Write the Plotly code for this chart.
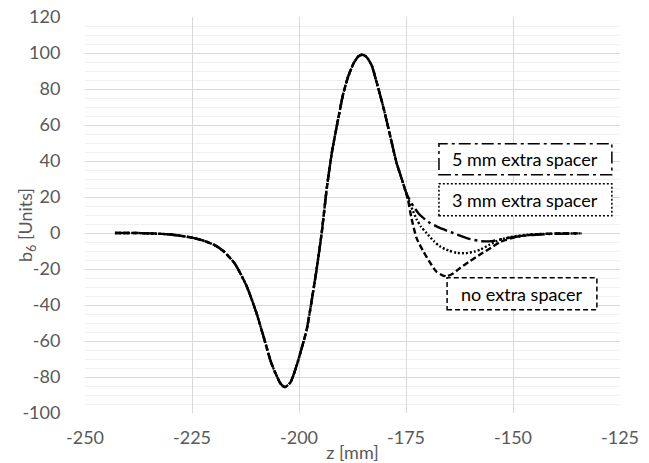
import plotly.graph_objects as go

# Shared part of the b6 profile (identical for all three spacer variants)
z_common = [-243, -238, -234, -230, -227.8, -225, -222, -219.5, -217.7, -215, -212.2, -210,
            -208.3, -206.5, -204.4, -203.3, -202, -200.6, -199.5, -198.2, -197, -196, -194.7,
            -193.5, -192.3, -191.2, -189.7, -188.5, -187.3, -186.2, -185.3, -184.3, -183,
            -181.9, -180.3, -178.7, -177.2, -176, -175.2]
b6_common = [0, 0, -0.3, -0.8, -1.5, -2.6, -4.5, -7, -10, -17, -29.7, -44,
             -57.4, -72, -83.3, -85.6, -83, -74, -65, -53.7, -37, -22, 0,
             25, 45, 59, 77, 87, 94, 98, 99, 98, 93,
             84, 70, 54, 39, 30, 24]

# Tails after the split
z_none = [-174.5, -173.7, -172.5, -171, -169.5, -167.9, -166.5, -165.5, -164, -162.4, -160,
          -157.7, -155, -153, -150.5, -148.4, -145, -140, -134]
b6_none = [18, 8, -3, -10, -16, -21.5, -23.5, -24, -22.5, -19.5, -15.5,
           -12, -8, -5, -3, -1.8, -0.8, -0.3, -0.2]

z_3mm = [-174.5, -173.5, -172.5, -171.5, -170.2, -168.5, -167.1, -165, -163.2, -161, -159,
         -157.7, -155.5, -153, -150, -147, -143, -138, -134]
b6_3mm = [19, 13, 7.5, 3.5, 0, -4.5, -7.4, -9.8, -11, -11.2, -10.3,
          -9.3, -6.5, -3.7, -2, -1, -0.5, -0.3, -0.2]

z_5mm = [-174.5, -173.3, -172.1, -170.5, -169.4, -167.1, -164, -160.8, -157.7, -155, -152.5,
         -150, -147, -143.7, -140, -134]
b6_5mm = [20, 15, 11, 7.5, 5.6, 2.8, 0, -2.8, -4.5, -4.5, -3.4,
          -2.3, -1.4, -0.8, -0.4, -0.2]

x_ticks = [-250, -225, -200, -175, -150, -125]
x_ticktext = ["-250", "-225", "-200", "-175", "-150", "-125"]
y_ticks = [-100, -80, -60, -40, -20, 0, 20, 40, 60, 80, 100, 120]
y_ticktext = ["-100", "-80", "-60", "-40", "-20", "0", "20", "40", "60", "80", "100", "120"]

series = [
    ("no extra spacer", z_none, b6_none, "6px,3px"),
    ("3 mm extra spacer", z_3mm, b6_3mm, "2px,2px"),
    ("5 mm extra spacer", z_5mm, b6_5mm, "14px,4px,3px,4px"),
]

FONT = "Lato, 'Open Sans', sans-serif"

fig = go.Figure()
for name, zt, bt, dash in series:
    fig.add_trace(go.Scatter(
        x=z_common + zt, y=b6_common + bt, mode="lines", name=name,
        line=dict(color="black", width=2.4, dash=dash, shape="spline", smoothing=0.6),
        showlegend=False,
    ))

# Labelled boxes with border styles matching each curve
boxes = [
    ("5 mm extra spacer", -167.3, -126.9, 32.4, 49.6, "12px,4px,3px,4px"),
    ("3 mm extra spacer", -167.3, -126.9, 9.6, 27.4, "2px,2px"),
    ("no extra spacer", -165.4, -130.4, -42.6, -24.8, "5px,3px"),
]
for text, x0, x1, y0, y1, dash in boxes:
    fig.add_shape(type="rect", x0=x0, x1=x1, y0=y0, y1=y1, xref="x", yref="y",
                  line=dict(color="black", width=1.5, dash=dash), fillcolor="white", layer="above")
    fig.add_annotation(x=(x0 + x1) / 2, y=(y0 + y1) / 2, text=text, showarrow=False,
                       font=dict(family=FONT, size=18, color="black"), xref="x", yref="y")

# Vertical axis title
fig.add_annotation(x=0, y=0.5, xref="paper", yref="paper", xanchor="center", yanchor="middle",
                   xshift=-59, yshift=-10, textangle=-90,
                   text="b<sub>6</sub> [Units]", showarrow=False,
                   font=dict(family=FONT, size=18, color="#595959"))

fig.update_layout(
    width=649, height=463,
    margin=dict(l=85, r=29, t=17, b=50),
    paper_bgcolor="white", plot_bgcolor="white",
    font=dict(family=FONT, size=18, color="#595959"),
)
fig.update_xaxes(
    range=[-250, -125], tickvals=x_ticks, ticktext=x_ticktext, automargin=False,
    showgrid=True, gridcolor="#d9d9d9", gridwidth=1, zeroline=False,
    showline=False, ticks="outside", ticklen=8, tickcolor="rgba(0,0,0,0)",
    title=dict(text="z [mm]", standoff=0, font=dict(size=18, color="#595959")),
)
fig.update_yaxes(
    range=[-100, 120], tickvals=y_ticks, ticktext=y_ticktext, automargin=False,
    showgrid=True, gridcolor="#d9d9d9", gridwidth=1, zeroline=False,
    minor=dict(dtick=5, showgrid=True, gridcolor="#f0f0f0", gridwidth=1),
    showline=False, ticks="outside", ticklen=20, tickcolor="rgba(0,0,0,0)",
)

fig.write_html("out.html")
